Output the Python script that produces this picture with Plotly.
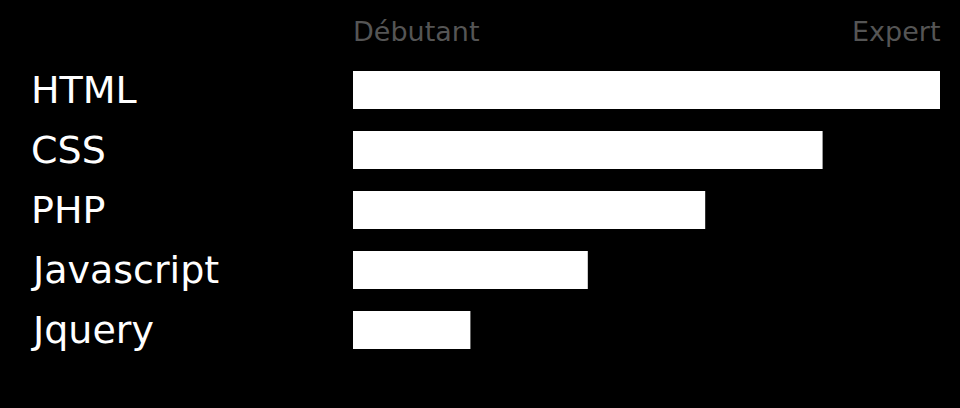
import plotly.graph_objects as go

skills = ["HTML", "CSS", "PHP", "Javascript", "Jquery"]
levels = [1.0, 0.8, 0.6, 0.4, 0.2]
scale_labels = ["Débutant", "Expert"]

W, H = 960, 408
ml, mr, mt, mb = 353, 20, 60, 48
pw = W - ml - mr
FONT = "DejaVu Sans"

fig = go.Figure(go.Bar(
    y=skills, x=levels, orientation="h",
    marker=dict(color="white", line=dict(width=0)),
    hoverinfo="skip",
))

annotations = []
for s in skills:
    annotations.append(dict(
        x=-(ml - 29) / pw, xref="paper", y=s, yref="y", yshift=0,
        text=s, showarrow=False, xanchor="left", yanchor="middle",
        font=dict(family=FONT, size=38, color="white"),
    ))
annotations.append(dict(x=0, xref="paper", y=1, yref="paper", yshift=29, xshift=-2,
                         text=scale_labels[0], showarrow=False, xanchor="left", yanchor="middle",
                         font=dict(family=FONT, size=27, color="#555555")))
annotations.append(dict(x=1, xref="paper", y=1, yref="paper", yshift=29, xshift=2,
                         text=scale_labels[1], showarrow=False, xanchor="right", yanchor="middle",
                         font=dict(family=FONT, size=27, color="#555555")))

fig.update_layout(
    width=W, height=H,
    margin=dict(l=ml, r=mr, t=mt, b=mb),
    paper_bgcolor="black", plot_bgcolor="black",
    bargap=22 / 60,
    showlegend=False,
    xaxis=dict(range=[0, 1], visible=False, fixedrange=True),
    yaxis=dict(autorange="reversed", showticklabels=False, showgrid=False,
               zeroline=False, fixedrange=True),
    annotations=annotations,
)

fig.write_html("out.html", config={"displayModeBar": False})
